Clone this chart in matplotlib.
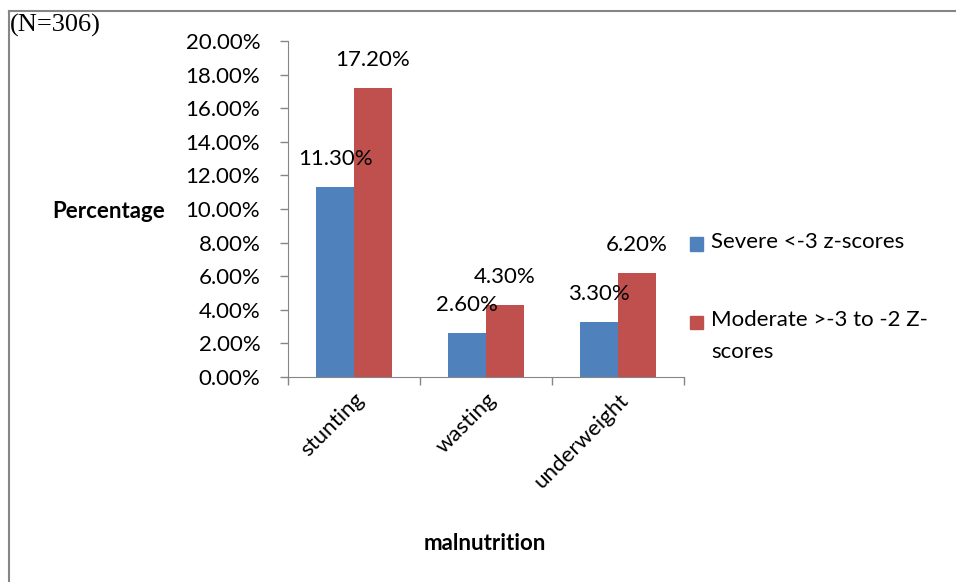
import matplotlib.pyplot as plt
import numpy as np
from matplotlib.lines import Line2D
from matplotlib.patches import Rectangle

categories = ["stunting", "wasting", "underweight"]
severe = [11.3, 2.6, 3.3]
moderate = [17.2, 4.3, 6.2]
series_names = ["Severe <-3 z-scores", "Moderate >-3 to -2 Z-\nscores"]
yticks = [0, 2, 4, 6, 8, 10, 12, 14, 16, 18, 20]

blue = "#4f81bd"
red = "#c0504d"
grey = "#868686"
font = "Lato"
fs = 16

fig = plt.figure(figsize=(9.56, 5.82), dpi=100)
ax = fig.add_axes([0.3013, 0.3522, 0.4142, 0.5774])

x = np.arange(len(categories))
w = 0.288
b1 = ax.bar(x - w / 2, severe, w, color=blue)
b2 = ax.bar(x + w / 2, moderate, w, color=red)

for bars, vals in ((b1, severe), (b2, moderate)):
    for r, v in zip(bars, vals):
        ax.annotate("%.2f%%" % v, (r.get_x() + r.get_width() / 2, v),
                    xytext=(0, 28), textcoords="offset pixels",
                    ha="center", va="center", fontsize=fs, family=font)

ax.set_xlim(-0.5, 2.5)
ax.set_ylim(0, 20)
ax.set_yticks(yticks)
ax.set_yticklabels(["%.2f%%" % t for t in yticks], fontsize=fs, family=font)
ax.set_xticks([-0.5, 0.5, 1.5, 2.5])
ax.set_xticklabels([])
ax.set_xticks(x, minor=True)
ax.set_xticklabels(categories, minor=True, rotation=45, ha="right", va="top",
                   rotation_mode="anchor", fontsize=fs, family=font)
ax.tick_params(axis="x", which="minor", length=0, pad=9)
ax.tick_params(axis="both", which="major", length=6, color=grey, width=1)
ax.tick_params(axis="y", pad=14)

for s in ("top", "right"):
    ax.spines[s].set_visible(False)
for s in ("left", "bottom"):
    ax.spines[s].set_color(grey)

fig.text(109 / 956, 1 - 212 / 582, "Percentage", ha="center", va="center",
         fontsize=fs, fontweight="bold", family=font)
fig.text(485 / 956, 1 - 543 / 582, "malnutrition", ha="center", va="center",
         fontsize=fs, fontweight="bold", family=font)
fig.text(10 / 956, 1 - 25 / 582, "(N=306)", ha="left", va="center",
         fontsize=19, family="Liberation Serif")

# legend, drawn by hand so the square sits on the first text line
for i, (name, col) in enumerate(zip(series_names, [blue, red])):
    yc = [244, 322][i]
    fig.add_artist(Rectangle((690 / 956, 1 - (yc + 6.5) / 582), 13 / 956, 13 / 582,
                             color=col, transform=fig.transFigure))
    fig.text(711 / 956, 1 - (yc - 12) / 582, name, ha="left", va="top",
             fontsize=fs, family=font, linespacing=1.75)

# outer frame
fig.add_artist(Line2D([9 / 956, 1], [1 - 11 / 582, 1 - 11 / 582],
                      color=grey, lw=1.5, transform=fig.transFigure))
fig.add_artist(Line2D([9 / 956, 9 / 956], [0, 1 - 11 / 582],
                      color=grey, lw=1.5, transform=fig.transFigure))

fig.savefig("out.png", dpi=100)
